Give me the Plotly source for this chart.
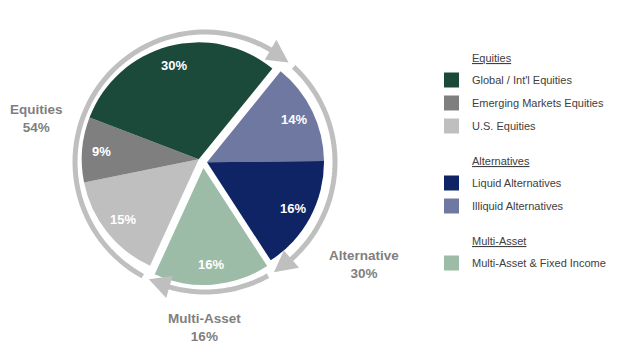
import math
import plotly.graph_objects as go

# ---------------- data ----------------
slice_labels = ["Illiquid Alternatives", "Liquid Alternatives", "Multi-Asset & Fixed Income",
                "U.S. Equities", "Emerging Markets Equities", "Global / Int'l Equities"]
slice_values = [14, 16, 16, 15, 9, 30]
slice_groups = ["Alternatives", "Alternatives", "Multi-Asset", "Equities", "Equities", "Equities"]
slice_colors = ["#6e78a0", "#0e2464", "#9dbca8", "#bfbfbf", "#7f7f7f", "#1c4a3a"]

group_names = ["Equities", "Alternatives", "Multi-Asset"]
group_ring_labels = ["Equities", "Alternative", "Multi-Asset"]
legend_order = {
    "Equities": ["Global / Int'l Equities", "Emerging Markets Equities", "U.S. Equities"],
    "Alternatives": ["Liquid Alternatives", "Illiquid Alternatives"],
    "Multi-Asset": ["Multi-Asset & Fixed Income"],
}

# ---------------- layout constants ----------------
W, H = 619, 356
ROT = 39.0           # start angle of first slice (deg, clockwise from 12 o'clock)
CX, CY, R = 203, 162, 117
PULL = {"Equities": 5, "Alternatives": 4, "Multi-Asset": 6}
RING_CX, RING_CY, RING_R = 205, 162, 130
RING_COLOR = "#bfbfbf"
FONT = "Arial, Liberation Sans, sans-serif"
group_label_pos = {"Equities": (36, 118), "Alternatives": (364, 264), "Multi-Asset": (204, 327)}
LABEL_R = 0.83


def P(x, y):
    return x / W, 1 - y / H


total = sum(slice_values)
cum = ROT
slice_spans = []
spans = {}
for v, g in zip(slice_values, slice_groups):
    a0, a1 = cum, cum + 360.0 * v / total
    slice_spans.append((a0, a1))
    spans[g] = (spans[g][0], a1) if g in spans else (a0, a1)
    cum = a1

fig = go.Figure()
annotations = []
shapes = []

for g in group_names:
    a0, a1 = spans[g]
    mid = math.radians((a0 + a1) / 2)
    cx, cy = CX + PULL[g] * math.sin(mid), CY - PULL[g] * math.cos(mid)
    colors = [c if sg == g else "rgba(0,0,0,0)" for c, sg in zip(slice_colors, slice_groups)]
    fig.add_trace(go.Pie(
        labels=slice_labels, values=slice_values, sort=False, direction="clockwise",
        rotation=ROT, marker=dict(colors=colors, line=dict(width=0)),
        textinfo="none", hoverinfo="skip", showlegend=False,
        domain=dict(x=[(cx - R) / W, (cx + R) / W], y=[1 - (cy + R) / H, 1 - (cy - R) / H]),
    ))
    for v, sg, (s0, s1) in zip(slice_values, slice_groups, slice_spans):
        if sg != g:
            continue
        m = math.radians((s0 + s1) / 2)
        tx, ty = cx + LABEL_R * R * math.sin(m), cy - LABEL_R * R * math.cos(m)
        px, py = P(tx, ty)
        annotations.append(dict(x=px, y=py, xref="paper", yref="paper", showarrow=False,
                                xanchor="center", yanchor="middle", text=f"{v}%",
                                font=dict(family=FONT, size=13, color="white", weight="bold")))


def ring_pt(ang_deg, r):
    a = math.radians(ang_deg)
    return RING_CX + r * math.sin(a), RING_CY - r * math.cos(a)


ARROW_LEN, ARROW_HALF = 22.0, 11.5
for g, lab in zip(group_names, group_ring_labels):
    a0, a1 = spans[g]
    start = a0 + 4
    tip = a1 + 1
    base = tip - math.degrees(ARROW_LEN / RING_R)
    n = 60
    pts = [ring_pt(start + (base + 1 - start) * i / n, RING_R) for i in range(n + 1)]
    path = "M " + " L ".join(f"{P(x, y)[0]:.5f},{P(x, y)[1]:.5f}" for x, y in pts)
    shapes.append(dict(type="path", path=path, xref="paper", yref="paper",
                       line=dict(color=RING_COLOR, width=5)))
    tri = [ring_pt(base, RING_R + ARROW_HALF), ring_pt(tip, RING_R), ring_pt(base, RING_R - ARROW_HALF)]
    tpath = "M " + " L ".join(f"{P(x, y)[0]:.5f},{P(x, y)[1]:.5f}" for x, y in tri) + " Z"
    shapes.append(dict(type="path", path=tpath, xref="paper", yref="paper",
                       fillcolor=RING_COLOR, line=dict(width=0)))
    gsum = sum(v for v, sg in zip(slice_values, slice_groups) if sg == g)
    lx, ly = group_label_pos[g]
    px, py = P(lx, ly)
    annotations.append(dict(x=px, y=py, xref="paper", yref="paper", showarrow=False,
                            xanchor="center", yanchor="middle",
                            text=f"{lab}<br>{gsum}%", align="center",
                            font=dict(family=FONT, size=13.5, color="#7f7f7f", weight="bold")))

# legend
y = 58
LX_BOX, LX_TXT = 444, 470
for g in group_names:
    px, py = P(LX_TXT, y)
    annotations.append(dict(x=px, y=py, xref="paper", yref="paper", showarrow=False,
                            xanchor="left", yanchor="middle",
                            text=f"<span style='text-decoration:underline'>{g}</span>",
                            font=dict(family=FONT, size=11, color="#404040")))
    y += 22
    for name in legend_order[g]:
        c = slice_colors[slice_labels.index(name)]
        x0, y0 = P(LX_BOX, y - 7.5)
        x1, y1 = P(LX_BOX + 15, y + 7.5)
        shapes.append(dict(type="rect", xref="paper", yref="paper", x0=x0, y0=y0, x1=x1, y1=y1,
                           fillcolor=c, line=dict(width=0)))
        px, py = P(LX_TXT, y)
        annotations.append(dict(x=px, y=py, xref="paper", yref="paper", showarrow=False,
                                xanchor="left", yanchor="middle", text=name,
                                font=dict(family=FONT, size=11, color="#404040")))
        y += 23
    y += 12

fig.update_layout(width=W, height=H, margin=dict(l=0, r=0, t=0, b=0),
                  paper_bgcolor="white", plot_bgcolor="white",
                  shapes=shapes, annotations=annotations, showlegend=False)
fig.write_html("out.html", config={"displayModeBar": False},
               post_script="document.body.style.margin='0';document.body.style.overflow='hidden';")
